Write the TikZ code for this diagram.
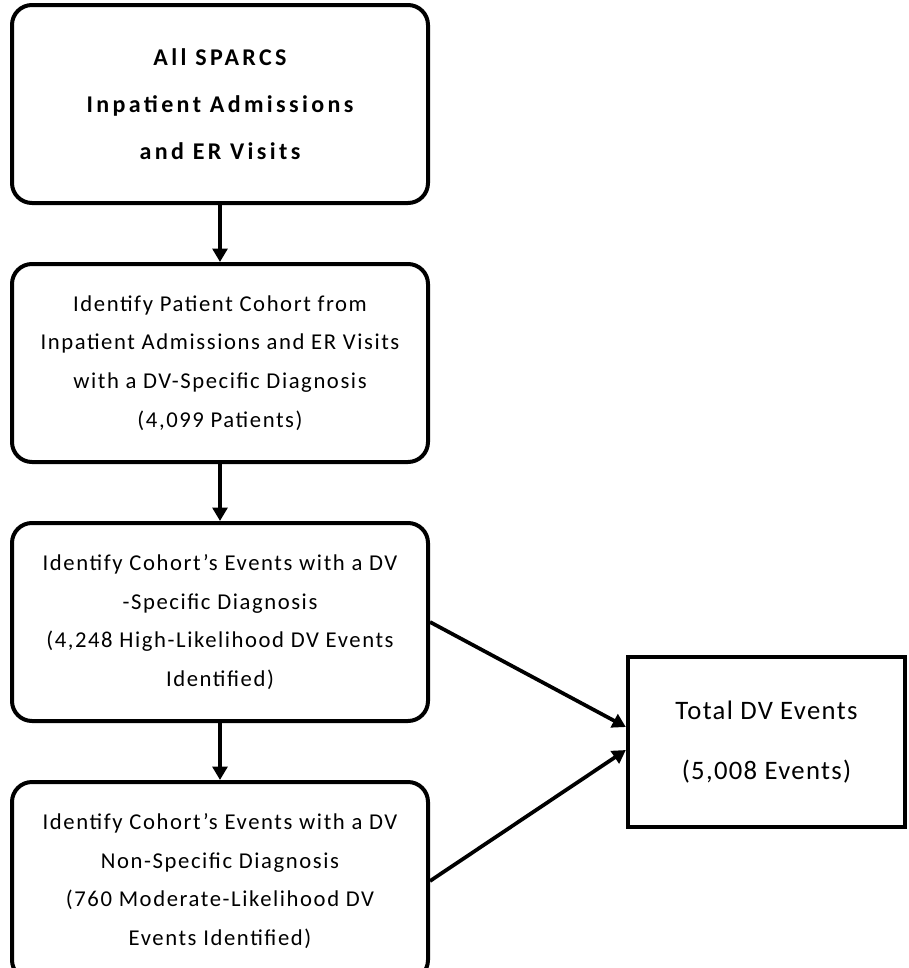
\documentclass[tikz,border=0pt]{standalone}
\usepackage{fontspec}
\setmainfont{Carlito}
\usetikzlibrary{arrows.meta, positioning}

\begin{document}
\begin{tikzpicture}[
    x=0.75pt, y=-0.75pt,
    node distance=42.75pt,
    stage/.style={rectangle, draw, line width=3pt, rounded corners=15pt, minimum width=312pt,
                  minimum height=148.5pt, align=center,
                  font=\fontsize{17}{29}\selectfont\addfontfeature{LetterSpace=7}},
    total/.style={rectangle, draw, line width=3.2pt, minimum width=207.75pt, minimum height=127.5pt,
                  align=center, font=\fontsize{20}{29}\selectfont\addfontfeature{LetterSpace=5}},
    arrow/.style={-{Triangle[length=10pt, width=11pt]}, line width=2.8pt}
]
    \useasboundingbox (0,0) rectangle (908,968);
    \node[stage, font=\bfseries\fontsize{18}{35}\selectfont\addfontfeature{LetterSpace=14}] (all) at (220,104)
        {All SPARCS\\Inpatient Admissions\\and ER Visits};
    \node[stage, below=of all] (cohort) {Identify Patient Cohort from\\Inpatient Admissions and ER Visits\\with a DV-Specific Diagnosis\\(4,099 Patients)};
    \node[stage, below=of cohort] (spec) {Identify Cohort’s Events with a DV\\-Specific Diagnosis\\(4,248 High-Likelihood DV Events\\Identified)};
    \node[stage, below=of spec] (nonspec) {Identify Cohort’s Events with a DV\\Non-Specific Diagnosis\\(760 Moderate-Likelihood DV\\Events Identified)};
    \node[total] (tot) at (766.5,742) {Total DV Events\\[16pt](5,008 Events)};
    \draw[arrow] (all) -- (cohort); \draw[arrow] (cohort) -- (spec); \draw[arrow] (spec) -- (nonspec);
    \draw[arrow] (spec.east) -- ([yshift=11.25pt]tot.west);
    \draw[arrow] (nonspec.east) -- ([yshift=-6pt]tot.west);
\end{tikzpicture}
\end{document}
